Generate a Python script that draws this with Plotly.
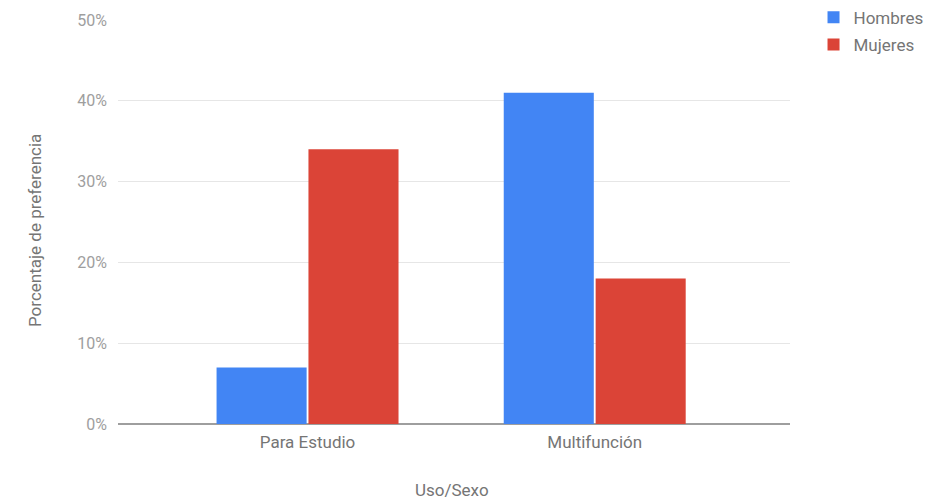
import plotly.graph_objects as go

categories = ["Para Estudio", "Multifunción"]
hombres = [7, 41]
mujeres = [34, 18]
y_ticks = [0, 10, 20, 30, 40, 50]
y_tick_labels = ["0%", "10%", "20%", "30%", "40%", "50%"]

fig = go.Figure()
fig.add_trace(go.Bar(name="Hombres", x=categories, y=hombres, marker_color="#4285F4",
                     marker_line_width=0, legendgroup="h"))
fig.add_trace(go.Bar(name="Mujeres", x=categories, y=mujeres, marker_color="#DB4437",
                     marker_line_width=0, legendgroup="m"))

fig.update_layout(
    width=949, height=501,
    margin=dict(l=118, r=159, t=20, b=77, autoexpand=False),
    barmode="group", bargap=0.36, bargroupgap=0.02,
    plot_bgcolor="white", paper_bgcolor="white",
    font=dict(family="Roboto", size=17, color="#757575"),
    legend=dict(x=1.035, y=1.05, xanchor="left", yanchor="top",
                font=dict(size=17, color="#757575"), tracegroupgap=2,
                itemwidth=30),
    xaxis=dict(range=[-0.66, 1.68], showgrid=False, showline=False, ticks="",
               automargin=False, ticklabelstandoff=6,
               tickfont=dict(size=17, color="#757575")),
    yaxis=dict(range=[0, 50], tickvals=y_ticks, ticktext=y_tick_labels,
               gridcolor="#E6E6E6", gridwidth=1, zeroline=True, zerolinecolor="#9E9E9E",
               zerolinewidth=2, showline=False, ticks="", ticklen=0,
               automargin=False, ticklabelstandoff=10,
               tickfont=dict(size=16, color="#9E9E9E")),
    annotations=[
        dict(text="Uso/Sexo", xref="paper", yref="paper", x=(452 - 118) / 672,
             y=(424 - 490) / 404, xanchor="center", yanchor="middle", showarrow=False,
             font=dict(size=17, color="#757575")),
        dict(text="Porcentaje de preferencia", xref="paper", yref="paper", x=(35 - 118) / 672,
             y=(424 - 231) / 404, xanchor="center", yanchor="middle", textangle=-90, showarrow=False,
             font=dict(size=17, color="#757575")),
    ],
)

fig.write_html("out.html")
